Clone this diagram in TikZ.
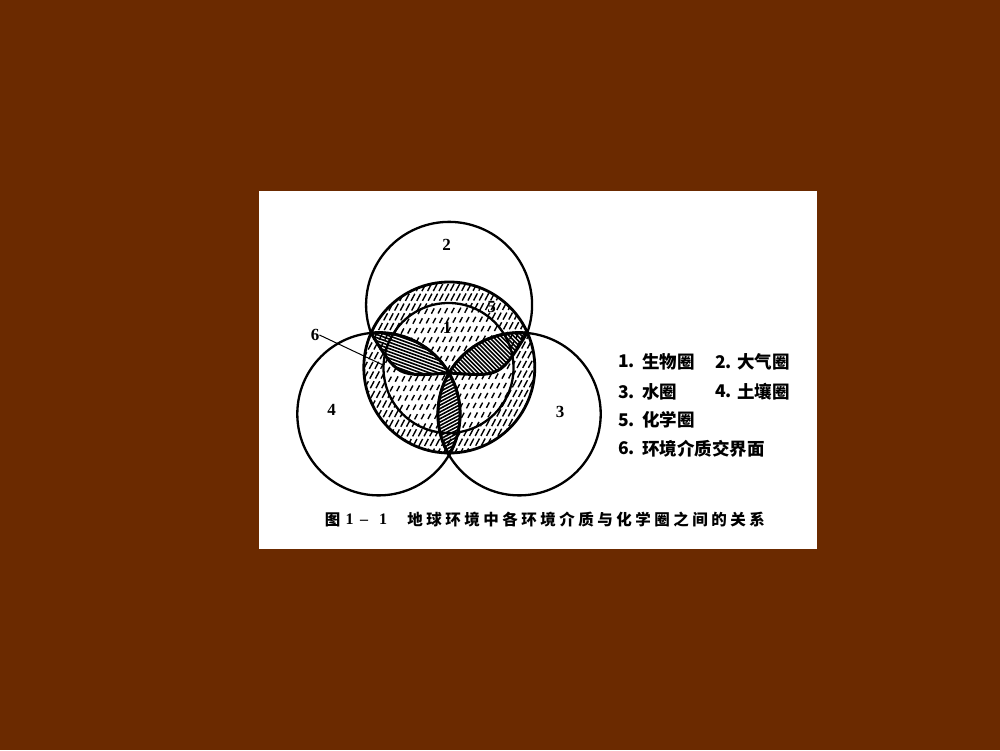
\documentclass[tikz,border=0pt]{standalone}
\usepackage{fontspec}
\setmainfont{Liberation Serif}
\newfontfamily\cjk{Noto Sans CJK SC}
\usetikzlibrary{calc}
\definecolor{bgbrown}{RGB}{107,42,0}
\begin{document}
\begin{tikzpicture}[x=1pt,y=1pt,
  circ/.style={line width=2.3},
  petalline/.style={line width=3},
  hatchring/.style={line width=1.4, dash pattern=on 8 off 3},
  hatchin/.style={line width=1.4, dash pattern=on 6 off 5},
  phatch/.style={line width=1.6},
  lbl/.style={font=\fontsize{17}{17}\selectfont\bfseries, inner sep=0},
  leg/.style={font=\cjk\bfseries\fontsize{17.5}{18}\selectfont, anchor=west, inner sep=0},
  captxt/.style={font=\cjk\bfseries\fontsize{15.5}{16}\selectfont, inner sep=0},
  capdig/.style={font=\fontsize{16}{16}\selectfont\bfseries, inner sep=0, anchor=base}]
\useasboundingbox (0,0) rectangle (1000,750);
\fill[bgbrown] (0,0) rectangle (1000,750);
\fill[white] (259,201) rectangle (817,559);

% key points
\coordinate (A) at (371,417);
\coordinate (B) at (527,417);
\coordinate (O) at (449,377);
\coordinate (C) at (449,295);
\coordinate (c1) at (448.5,382);
\coordinate (c3) at (519.3,336);
\coordinate (c4) at (378.7,336);
\coordinate (c5) at (449.3,382.5);

\def\leftpetal{(A) arc[start angle=95.4, end angle=30.3, radius=81.4] .. controls (397.8,373.2) .. (A) -- cycle}
\def\rightpetal{(B) arc[start angle=84.6, end angle=149.7, radius=81.4] .. controls (500.2,373.2) .. (B) -- cycle}
\def\bottompetal{(O) arc[start angle=30.3, end angle=-30.3, radius=81.4] arc[start angle=210.3, end angle=149.7, radius=81.4] -- cycle}

% ring hatch (whole circle 5)
\begin{scope}
  \clip (c5) circle[radius=85.5];
  \begin{scope}[shift={(c5)}, rotate=62]
    \foreach \i in {-19,...,19}
      \draw[hatchring, dash phase=\i*2.7] (-100,\i*5) -- (100,\i*5);
  \end{scope}
\end{scope}
% inner hatch (circle 1)
\begin{scope}
  \clip (c1) circle[radius=65];
  \fill[white] (c1) circle[radius=66];
  \begin{scope}[shift={(c1)}, rotate=62]
    \foreach \i in {-14,...,14}
      \draw[hatchin, dash phase=\i*3.3] (-80,\i*5.8) -- (80,\i*5.8);
  \end{scope}
\end{scope}
% clear petal parts inside circle 1
\begin{scope}
  \clip (c1) circle[radius=65];
  \fill[white] \leftpetal;
  \fill[white] \rightpetal;
  \fill[white] \bottompetal;
\end{scope}
% petal hatching
\begin{scope}
  \clip \leftpetal;
  \begin{scope}[shift={(410,397)}, rotate=-20]
    \foreach \i in {-17,...,17}
      \draw[phatch] (-60,\i*3) -- (60,\i*3);
  \end{scope}
\end{scope}
\begin{scope}
  \clip \rightpetal;
  \begin{scope}[shift={(488,397)}, rotate=-45]
    \foreach \i in {-19,...,19}
      \draw[phatch] (-60,\i*3) -- (60,\i*3);
  \end{scope}
\end{scope}
\begin{scope}
  \clip \bottompetal;
  \begin{scope}[shift={(449,336)}, rotate=28]
    \foreach \i in {-19,...,19}
      \draw[phatch] (-60,\i*3) -- (60,\i*3);
  \end{scope}
\end{scope}

% circles
\draw[circ] (c1) circle[radius=65];
\draw[line width=2.8] (c5) circle[radius=85.5];
\draw[circ] (c4) circle[radius=81.4];
\draw[circ] (c3) circle[radius=81.4];
\draw[circ] (A) arc[start angle=199.8, end angle=-20, radius=83];
% petal outlines
\draw[petalline, line join=round] \leftpetal;
\draw[petalline, line join=round] \rightpetal;
\draw[petalline, line join=round] \bottompetal;

% labels
\node[lbl] (l2) at (446.7,505) {2};
\node[lbl] (l5) at (491.7,443.3) {5};
\node[lbl] (l1) at (447,421.7) {1};
\node[lbl] (l4) at (331.7,340) {4};
\node[lbl] (l3) at (560,338.3) {3};
\node[lbl] (l6) at (315,415) {6};
\coordinate (p6) at (383,385);
\draw[line width=1] (l6.east) -- (p6);

% legend
\node[leg] (n1) at (618,388.3) {1.};
\node[leg] (t1) at (642,388.3) {生物圈};
\node[leg] (n2) at (715,388.3) {2.};
\node[leg] (t2) at (737,388.3) {大气圈};
\node[leg] (n3) at (618,358.3) {3.};
\node[leg] (t3) at (642,358.3) {水圈};
\node[leg] (n4) at (715,358.3) {4.};
\node[leg] (t4) at (737,358.3) {土壤圈};
\node[leg] (n5) at (618,330) {5.};
\node[leg] (t5) at (642,330) {化学圈};
\node[leg] (n6) at (618,301.7) {6.};
\node[leg] (t6) at (642,301.7) {环境介质交界面};

% caption
\node[captxt] (fig) at (332.5,230.5) {图};
\node[capdig] (d1) at (349.5,225.2) {1};
\node[capdig] (dd) at (364,225.2) {–};
\node[capdig] (d2) at (383,225.2) {1};
\foreach \ch [count=\k from 0] in {地,球,环,境,中,各,环,境,介,质,与,化,学,圈,之,间,的,关,系}
  \node[captxt] (cap\k) at (415+19*\k,230.5) {\ch};
\end{tikzpicture}
\end{document}
